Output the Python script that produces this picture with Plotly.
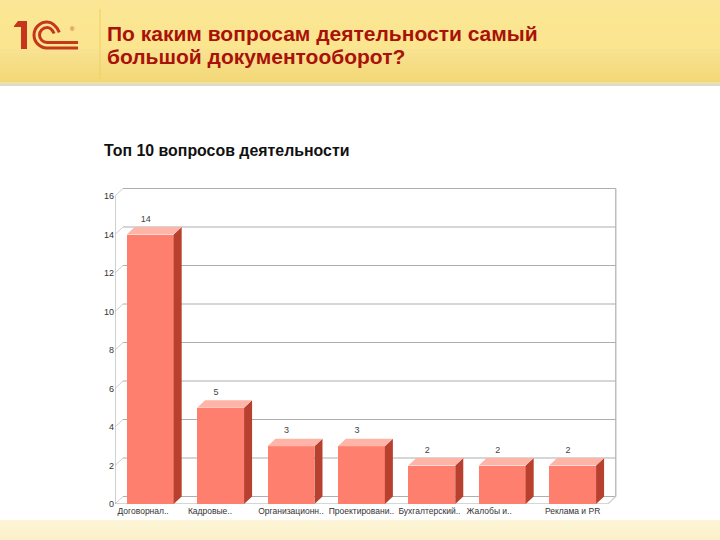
import plotly.graph_objects as go

# ---- data ----
categories = ["Договорная", "Кадровые", "Организационные", "Проектирование", "Бухгалтерский", "Жалобы", "Реклама и PR"]
NB = "\u00a0"
tick_labels = ["Договорнал.." + NB * 6, "Кадровые.." + NB * 9, "Организационн..", "Проектировани..", "Бухгалтерский.." + NB * 2, "Жалобы и.." + NB * 11, "Реклама и PR"]
values = [14, 5, 3, 3, 2, 2, 2]
y_ticks = [0, 2, 4, 6, 8, 10, 12, 14, 16]
title_lines = ["По каким вопросам деятельности самый", "большой документооборот?"]
chart_title = "Топ 10 вопросов деятельности"

# ---- layout constants (pixels) ----
W, H = 720, 540
L, R, T, B = 115, 620, 180, 504
PX_PER_CAT, PX_PER_UNIT = 70.4, 19.25
DX, DY = 8 / PX_PER_CAT, 7.5 / PX_PER_UNIT
BAR_W = 0.667
X0, X1 = -0.5, 6.5
GRID = "#AEAEAE"
x_max = X0 + (R - L) / PX_PER_CAT
y_max = (B - T) / PX_PER_UNIT


def fx(p):
    return (p - L) / (R - L)


def fy(p):
    return (B - p) / (B - T)


def px_path(cmds):
    out = []
    for c in cmds:
        if isinstance(c, str):
            out.append(c)
        else:
            out.append(f"{fx(c[0]):.5f},{fy(c[1]):.5f}")
    return " ".join(out)


shapes = []


def band(y0, y1, color):
    shapes.append(dict(type="rect", xref="paper", yref="paper", x0=fx(0), x1=fx(W), y0=fy(y0), y1=fy(y1),
                       fillcolor=color, line_width=0, layer="below"))


def lerp(a, b, t):
    return "#" + "".join(f"{round(a[i] + (b[i] - a[i]) * t):02X}" for i in range(3))


# header and footer bands
for i in range(49):
    band(i, i + 1.2, lerp((251, 230, 150), (251, 229, 142), i / 48))
for i in range(49, 82):
    band(i, i + 1.2, lerp((248, 226, 146), (243, 216, 118), (i - 49) / 32))
band(82, 84, "#EDE0A8")
band(84, 86, "#DEDBCB")
for i in range(520, 540):
    band(i, i + 1.2, lerp((253, 245, 215), (251, 240, 200), (i - 520) / 20))

# divider in header
shapes.append(dict(type="line", xref="paper", yref="paper", x0=fx(100), x1=fx(100), y0=fy(9), y1=fy(79),
                   line=dict(color="#EFCF5F", width=1)))

# logo
LOGO = "#C5371C"
shapes.append(dict(type="path", xref="paper", yref="paper", fillcolor=LOGO, line_width=0,
                   path=px_path(["M", (14, 26), "L", (18, 21), "L", (27, 21), "L", (27, 49), "L", (21, 49), "L", (21, 27), "L", (14, 27), "Z"])))
k = 0.55
def c_path(cx, cy, r, end):
    return px_path(["M", (cx + r * 0.95, cy - r * 0.2), "C", (cx + r * 0.7, cy - r * 0.75), (cx + r * 0.4, cy - r), (cx, cy - r),
                    "C", (cx - r * k, cy - r), (cx - r, cy - r * k), (cx - r, cy),
                    "C", (cx - r, cy + r * k), (cx - r * k, cy + r), (cx, cy + r), "L", (end, cy + r)])
shapes.append(dict(type="path", xref="paper", yref="paper", line=dict(color=LOGO, width=3), path=c_path(47, 35, 13, 78)))
shapes.append(dict(type="path", xref="paper", yref="paper", line=dict(color=LOGO, width=3), path=c_path(47, 35, 7.5, 78)))

# chart frame, drawn from the axis scale
x_back0, x_back1 = X0 + DX, X1 + DX
for t in y_ticks:
    shapes.append(dict(type="line", xref="x", yref="y", x0=x_back0, x1=x_back1, y0=t + DY, y1=t + DY,
                       line=dict(color=GRID, width=1.2), layer="below"))
    shapes.append(dict(type="line", xref="x", yref="y", x0=X0, x1=x_back0, y0=t, y1=t + DY,
                       line=dict(color="#CFCFCF", width=1), layer="below"))
frame = [
    (X0, 0, X0, y_ticks[-1], "#B0B0B0"),
    (X0, 0, X1, 0, GRID),
    (x_back1, DY, x_back1, y_ticks[-1] + DY, GRID),
    (X1, 0, x_back1, DY, "#CFCFCF"),
]
for x0, y0, x1, y1, col in frame:
    shapes.append(dict(type="line", xref="x", yref="y", x0=x0, y0=y0, x1=x1, y1=y1,
                       line=dict(color=col, width=1.2), layer="below"))

xs = list(range(len(values)))
fig = go.Figure()
fig.add_trace(go.Bar(x=xs, y=values, width=BAR_W, marker=dict(color="#FF7F6F", line_width=0), hoverinfo="skip", showlegend=False))

# 3D caps and sides of the bars
side_x, side_y, top_x, top_y = [], [], [], []
for i, v in zip(xs, values):
    r = i + BAR_W / 2
    l = i - BAR_W / 2
    side_x += [r, r + DX, r + DX, r, r, None]
    side_y += [0, DY, v + DY, v, 0, None]
    top_x += [l, l + DX, r + DX, r, l, None]
    top_y += [v, v + DY, v + DY, v, v, None]
fig.add_trace(go.Scatter(x=side_x, y=side_y, mode="none", fill="toself", fillcolor="#B8402E", hoverinfo="skip", showlegend=False))
fig.add_trace(go.Scatter(x=top_x, y=top_y, mode="none", fill="toself", fillcolor="#FFB4A8", hoverinfo="skip", showlegend=False))

# value labels
fig.add_trace(go.Scatter(x=[i - 0.064 for i in xs], y=[v + 0.78 for v in values], mode="text",
                         text=[str(v) for v in values], textposition="middle center",
                         textfont=dict(family="Liberation Sans", size=9, color="#444444"),
                         hoverinfo="skip", showlegend=False, cliponaxis=False))

annotations = [
    dict(xref="paper", yref="paper", x=fx(105), y=fy(33.5), text="<b>" + title_lines[0] + "</b>", showarrow=False, xanchor="left", yanchor="middle",
         font=dict(family="Liberation Sans", size=21, color="#A81208")),
    dict(xref="paper", yref="paper", x=fx(105), y=fy(56.5), text="<b>" + title_lines[1] + "</b>", showarrow=False, xanchor="left", yanchor="middle",
         font=dict(family="Liberation Sans", size=21, color="#A81208")),
    dict(xref="paper", yref="paper", x=fx(102), y=fy(150), text="<b>" + chart_title + "</b>", showarrow=False, xanchor="left", yanchor="middle",
         font=dict(family="Liberation Sans", size=15.9, color="#111111")),
    dict(xref="paper", yref="paper", x=fx(68), y=fy(24), text="®", showarrow=False,
         font=dict(family="Liberation Sans", size=6, color="#C5371C")),
]

fig.update_layout(
    width=W, height=H, autosize=False,
    margin=dict(l=L, r=W - R, t=T, b=H - B, pad=0),
    paper_bgcolor="white", plot_bgcolor="rgba(0,0,0,0)",
    bargap=0, shapes=shapes, annotations=annotations,
    xaxis=dict(range=[X0, x_max], tickmode="array", tickvals=xs, ticktext=tick_labels, showgrid=False, zeroline=False,
               showline=False, ticks="", tickangle=0, tickfont=dict(family="Liberation Sans", size=8.5, color="#333333")),
    yaxis=dict(range=[0, y_max], tickmode="array", tickvals=y_ticks, showgrid=False, zeroline=False, showline=False,
               ticks="", tickfont=dict(family="Liberation Sans", size=9, color="#333333")),
)
fig.write_html("out.html", config=dict(displayModeBar=False),
               post_script="document.body.style.margin='0';document.body.style.overflow='hidden';")
